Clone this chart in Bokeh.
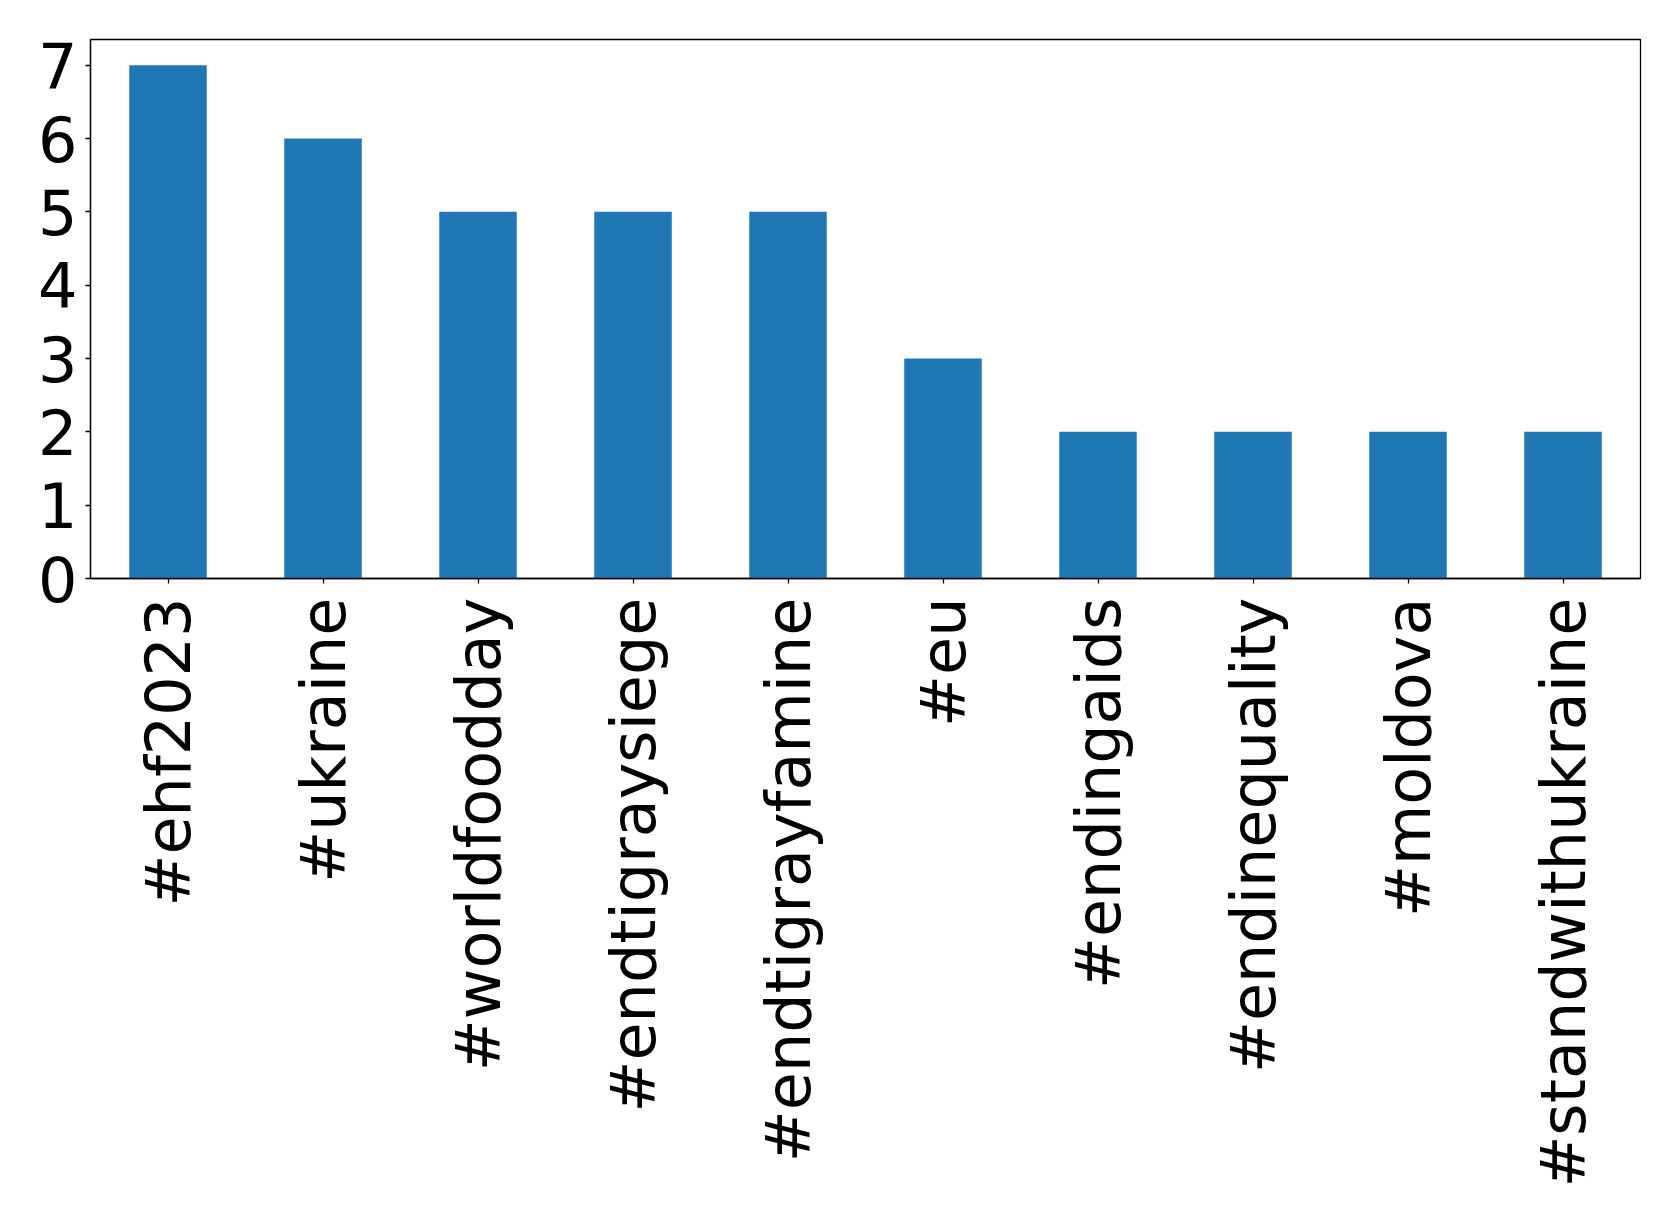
import math
from bokeh.plotting import figure
from bokeh.models import FactorRange, Range1d, FixedTicker
from bokeh.embed import file_html
from bokeh.resources import INLINE

hashtags = ["#ehf2023", "#ukraine", "#worldfoodday", "#endtigraysiege",
            "#endtigrayfamine", "#eu", "#endingaids", "#endinequality",
            "#moldova", "#standwithukraine"]
counts = [7, 6, 5, 5, 5, 3, 2, 2, 2, 2]
y_ticks = [0, 1, 2, 3, 4, 5, 6, 7]

FONT = "DejaVu Sans"
FS = "62px"

p = figure(x_range=FactorRange(factors=hashtags, range_padding=0),
           y_range=Range1d(0, 7.35),
           frame_width=1550, frame_height=539,
           min_border_left=90, min_border_top=39, min_border_right=30,
           min_border_bottom=10,
           output_backend="svg", toolbar_location=None)

p.vbar(x=hashtags, top=counts, width=0.5, color="#1f77b4", line_color=None)

p.xgrid.visible = False
p.ygrid.visible = False
p.outline_line_color = "black"
p.outline_line_width = 1.3
p.outline_line_alpha = 1

for ax in (p.xaxis, p.yaxis):
    ax.axis_line_color = "black"
    ax.axis_line_width = 1.3
    ax.major_tick_line_color = "black"
    ax.major_tick_line_width = 1.3
    ax.major_tick_out = 5
    ax.major_tick_in = 0
    ax.minor_tick_line_color = None
    ax.major_label_text_font = FONT
    ax.major_label_text_font_size = FS
    ax.major_label_text_color = "black"

p.yaxis.ticker = FixedTicker(ticks=y_ticks)
p.yaxis.major_label_standoff = 8
p.xaxis.major_label_orientation = math.pi / 2
p.xaxis.major_label_standoff = 14

open("out.html", "w").write(file_html(p, INLINE))
